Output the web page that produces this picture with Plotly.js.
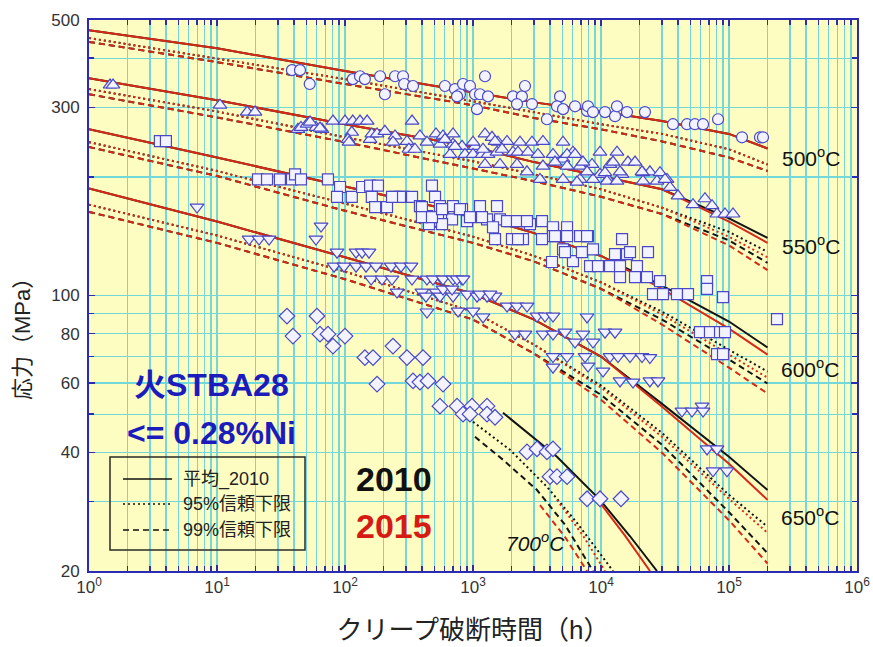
<!DOCTYPE html>
<html><head><meta charset="utf-8">
<script src="https://cdn.plot.ly/plotly-3.0.1.min.js"></script>
<style>html,body{margin:0;padding:0;background:#fff}#chart{width:873px;height:647px}</style>
</head><body><div id="chart"></div>
<script>
// ---- curve data (time h, stress MPa) ----
const tCurve = [1,10,100,1000,3000,10000,30000,100000,200000];

const s500Mean2010 = [471,424,371,328,309,293,277,257,236];
const s500Mean2015 = [471,424,371,328,309,293,277,257,236];
const s500P95_2010 = [450,400,354,311,292,272,257,235,215];
const s500P95_2015 = [450,400,354,311,292,272,257,235,215];
const s500P99_2010 = [440,391,344,304,282,264,246,224,207];
const s500P99_2015 = [440,391,344,304,282,264,246,224,207];

const s550Mean2010 = [356,313,272,238,218,201,186,157,140];
const s550Mean2015 = [356,313,272,238,218,201,186,154,136];
const s550P95_2010 = [334,293,252,219,203,186,167,145,129];
const s550P95_2015 = [334,293,252,219,203,186,167,141,125];
const s550P99_2010 = [324,283,245,210,195,178,161,138,121];
const s550P99_2015 = [324,283,245,210,195,178,161,134,116];

const s600Mean2010 = [264,224,189,160,144,126,106,85.9,73.8];
const s600Mean2015 = [264,224,189,160,144,126,104,82.4,70.8];
const s600P95_2010 = [245,207,171,141,126,108,91.0,72.9,64.1];
const s600P95_2015 = [245,207,171,141,126,108,89.5,70.8,61.9];
const s600P99_2010 = [238,201,164,136,122,104,86.9,68.8,59.8];
const s600P99_2015 = [238,201,164,136,122,104,84.4,65.6,56.4];

const s650Mean2010 = [187,154,125,101,86.9,70.0,53.1,39.0,32.1];
const s650Mean2015 = [187,154,125,101,86.9,70.0,52.2,37.4,30.3];
const s650P95_2010 = [170,142,115,91.0,75.0,59.1,44.8,31.2,25.9];
const s650P95_2015 = [170,142,115,91.0,75.0,58.4,43.8,30.5,25.0];
const s650P99_2010 = [163,136,110,86.9,71.2,56.0,41.8,28.2,22.2];
const s650P99_2015 = [163,136,110,86.9,71.2,54.4,39.9,26.9,20.9];

const t700Mean2010 = [1715,4530,9820,16860,27380];
const s700Mean2010 = [50.4,39.0,30.3,24.5,20];
const t700Mean2015 = [9820,15400,24150];
const s700Mean2015 = [29.8,24.6,20];
const t700P95_2010 = [1000,1945,3785,6494,12410];
const s700P95_2010 = [47.8,40.6,32.7,26.5,20];
const t700P99_2010 = [1036,1715,3162,5234,8660];
const s700P99_2010 = [43.8,38.3,32.1,26.2,20];
const t700P95_2015 = [4530,7230,10740];
const s700P95_2015 = [30.3,24.6,20];
const t700P99_2015 = [3337,5234,7780];
const s700P99_2015 = [29.4,24.4,20];

// ---- test data [time h, stress MPa] ----
const pts500 = [[38.5,373],[44.5,373],[53,344],[115,354],[131,360],[143,354],[188,360],[205,324],[246,360],[284,360],[290,344],[340,340],[604,340],[723,334],[791,324],[836,344],[947,340],[1037,324],[1134,324],[1241,360],[1075,297],[1310,320],[750,320],[2053,320],[2410,320],[2548,340],[2205,306],[2890,306],[3780,280],[4784,320],[4530,302],[5050,297],[6270,302],[7780,294],[7910,302],[8660,292],[10750,292],[12870,285],[13330,302],[15960,292],[22050,292],[36500,272],[46950,272],[54200,272],[62700,272],[82100,280],[126400,252],[174600,252],[184300,252]];

const pts550 = [[1.46,342],[1.54,342],[10.55,304],[17.2,292],[19.8,292],[42.9,264],[45.3,267],[50.5,272],[59.3,267],[66.1,264],[53.3,275.5],[63.8,266],[80.6,277],[100,277],[115,277],[131,277],[149,277],[113,259.5],[105.5,249],[107.5,245],[157,249],[162,257],[178,257],[205,261],[246,254],[237,245],[334,277],[305,246],[316,235],[385,254],[352,235],[437,245],[514,257],[583,254],[698,257],[552,242],[698,242],[661,228],[821,239],[866,228],[1037,239],[1241,257],[1408,252],[1000,228],[1176,228],[1310,228],[1567,245],[1844,246],[1540,231],[2053,231],[2329,245],[2246,231],[2890,245],[3520,246],[2688,231],[3217,228],[4217,228],[1241,215],[1625,215],[2205,215],[2640,206],[3520,213],[5050,245],[6040,231],[5050,222],[6860,213],[8510,215],[9820,231],[9820,203],[11760,215],[13330,231],[3336,197],[5050,197],[6860,197],[8660,197],[11340,197],[604,249],[723,239],[1000,245],[1486,246],[1197,235],[1685,235],[5430,228],[6270,228],[4372,218],[5430,213],[7230,218],[7780,206],[10750,205],[12410,218],[14600,203],[16250,218],[18440,218],[21280,205],[24100,206],[28900,205],[32800,197],[34580,188],[39940,179],[52300,170],[64900,176],[73700,169],[6490,194],[11140,195],[13330,195],[21280,195],[27370,195],[14080,206],[20900,206],[31620,197],[80600,161],[93000,161],[107500,161]];

const pts600 = [[3.58,246.5],[3.99,246.5],[20.9,197],[24.6,197],[31.0,197],[38.5,197],[40.7,203],[45.3,197],[73.6,197],[91.4,188.5],[86.6,178],[113,178],[136,188.5],[157,190],[181,190],[162,178],[172,167.6],[213,167.6],[246,178],[284,178],[334,178],[385,168.6],[478,190],[505,178],[437,159],[552,168.6],[583,159],[698,168.6],[686,156],[821,165.6],[898,154.4],[1134,168.6],[1287,156],[1540,168.6],[1625,156],[1945,154.4],[2329,154.4],[2787,151.7],[3460,154.4],[4217,147.4],[5430,149],[6860,141.5],[7910,141.5],[269,178],[399,167.6],[533,158],[791,165.6],[947,158],[1176,158],[1433,149],[1844,154.4],[2205,154.4],[2640,154.4],[4217,149],[2016,139],[2457,139],[4217,141.5],[5050,131],[4140,121.6],[6040,122.3],[1486,139],[2246,139],[3460,139],[4372,141.5],[5430,141.5],[7780,141.5],[14600,139],[7100,128.8],[8660,131],[12870,127.4],[15960,127.4],[23290,128.8],[8210,118.7],[9470,118.7],[11760,118.7],[14080,118.7],[19100,118.7],[14080,111.3],[18440,111.3],[22870,111.3],[28900,108.8],[25480,100.8],[30500,100.8],[39220,100.8],[47840,100.8],[67350,108.8],[67350,104],[89800,99.0],[59300,80.7],[71000,80.7],[85100,80.7],[93000,80.7],[80600,71.0],[89800,71.0],[237100,87.1],[5230,128.8],[16850,128.8],[573,151.7],[453,151.7],[399,158],[478,158],[573,165.6],[233,178]];

const pts650 = [[6.98,167.6],[17.8,139],[21.3,139],[25.5,139],[59.3,139],[65.0,150],[86.6,128.8],[122,128.8],[136,128.8],[154,128.8],[82.1,118.7],[98.2,118.7],[122,118.7],[146,118.7],[174.6,118.7],[229,118.7],[274,118.7],[328,118.7],[160,110.1],[194.5,110.1],[233,110.1],[334,110.1],[255,102],[399,102],[514,102],[573,110.1],[429,99.6],[437,110.1],[487,110.1],[583,110.1],[698,110.1],[821,110.1],[552,99.6],[698,99.6],[898,100.8],[1075,99.6],[1287,99.6],[1486,99.6],[583,103.8],[686,103.8],[437,90.8],[764,91.3],[1000,91.3],[1197,88.2],[1844,94],[2205,94],[2640,94],[2128,79.8],[2548,79.8],[3162,88.7],[3650,88.7],[4217,88.7],[3520,79.8],[4217,79.8],[5230,80.7],[7780,88.2],[6270,76.2],[7230,79.8],[8660,76.2],[10750,80.7],[12870,80.7],[4217,70],[5430,70],[7500,70],[4217,65.8],[7910,66.2],[10370,64.3],[11760,70],[13580,70],[16850,70],[20900,70],[24100,69.6],[14080,60.7],[17780,60.3],[24100,60.7],[27870,60.7],[42900,50.9],[51400,50.9],[61540,52.4],[62700,50.9],[67350,40.8],[80600,40.8],[75000,35.9],[96400,35.9],[750,110.1],[836,110.1],[1134,100.8],[1358,100.8]];

const pts700 = [[35.2,88.7],[60.4,88.7],[39.2,78.9],[63.8,79.8],[73.6,79.8],[80.6,74.4],[100,78.9],[237,74.4],[143,69.6],[165.5,69.6],[305,69.6],[407,69.6],[178,59.6],[340,60.7],[385,60.3],[445,60.7],[583,59.6],[552,52.4],[750,52.4],[836,50],[982,52.4],[1287,52.4],[1287,50],[1486,49.1],[947,50],[2640,40.1],[3162,40.8],[3785,40.1],[4217,40.8],[3994,34.7],[4530,34.7],[5430,34.7],[7780,30.5],[9820,30.5],[14330,30.5]];

// ---- axis ticks ----
const xTickVals = [1,10,100,1000,10000,100000,1000000];
const xTickText = ['10<sup>0</sup>','10<sup>1</sup>','10<sup>2</sup>','10<sup>3</sup>','10<sup>4</sup>','10<sup>5</sup>','10<sup>6</sup>'];
const xMinorVals = [];
for (let k = 0; k <= 5; k++) for (let m = 2; m <= 9; m++) xMinorVals.push(m * Math.pow(10, k));
const yTickVals = [20,40,60,80,100,300,500];
const yTickText = ['20','40','60','80','100','300','500'];
const yMinorVals = [30,50,70,90,200,400];

const BLACK = '#141414', RED = '#d42a17', BLUE = '#2a2ab4', GRID = '#74d8da';
const DOT = '2px,3px', DASH = '6px,4px';

function curve(t, s, color, dash) {
  return {x: t, y: s, type: 'scatter', mode: 'lines', hoverinfo: 'skip',
          line: {color: color, width: 2, dash: dash}};
}
function pts(arr, symbol, size) {
  return {x: arr.map(p => p[0]), y: arr.map(p => p[1]), type: 'scatter', mode: 'markers', hoverinfo: 'skip',
          marker: {symbol: symbol, size: size, color: '#f3f3ff', line: {color: '#4848c8', width: 1.2}}};
}

const traces = [
  // 2010 (black)
  curve(tCurve, s500Mean2010, BLACK, 'solid'), curve(tCurve, s500P95_2010, BLACK, DOT), curve(tCurve, s500P99_2010, BLACK, DASH),
  curve(tCurve, s550Mean2010, BLACK, 'solid'), curve(tCurve, s550P95_2010, BLACK, DOT), curve(tCurve, s550P99_2010, BLACK, DASH),
  curve(tCurve, s600Mean2010, BLACK, 'solid'), curve(tCurve, s600P95_2010, BLACK, DOT), curve(tCurve, s600P99_2010, BLACK, DASH),
  curve(tCurve, s650Mean2010, BLACK, 'solid'), curve(tCurve, s650P95_2010, BLACK, DOT), curve(tCurve, s650P99_2010, BLACK, DASH),
  curve(t700Mean2010, s700Mean2010, BLACK, 'solid'), curve(t700P95_2010, s700P95_2010, BLACK, DOT), curve(t700P99_2010, s700P99_2010, BLACK, DASH),
  // 2015 (red)
  curve(tCurve, s500Mean2015, RED, 'solid'), curve(tCurve, s500P95_2015, RED, DOT), curve(tCurve, s500P99_2015, RED, DASH),
  curve(tCurve, s550Mean2015, RED, 'solid'), curve(tCurve, s550P95_2015, RED, DOT), curve(tCurve, s550P99_2015, RED, DASH),
  curve(tCurve, s600Mean2015, RED, 'solid'), curve(tCurve, s600P95_2015, RED, DOT), curve(tCurve, s600P99_2015, RED, DASH),
  curve(tCurve, s650Mean2015, RED, 'solid'), curve(tCurve, s650P95_2015, RED, DOT), curve(tCurve, s650P99_2015, RED, DASH),
  curve(t700Mean2015, s700Mean2015, RED, 'solid'), curve(t700P95_2015, s700P95_2015, RED, DOT), curve(t700P99_2015, s700P99_2015, RED, DASH),
  // data
  pts(pts500, 'circle', 11), pts(pts550, 'triangle-up', 12), pts(pts600, 'square', 11),
  pts(pts650, 'triangle-down', 12), pts(pts700, 'diamond', 12)
];

const FONT = 'Liberation Sans, Arial, Noto Sans CJK JP, sans-serif';
const W = 768, H = 551, L = 89, B = 571;
const px = v => (v - L) / W, py = v => (B - v) / H;

function ann(text, x, y, size, color, extra) {
  return Object.assign({text: text, x: x, y: y, xref: 'paper', yref: 'paper', showarrow: false,
    xanchor: 'center', yanchor: 'middle', font: {family: FONT, size: size, color: color}}, extra || {});
}

const annotations = [
  ann('500<sup>o</sup>C', px(811), py(157), 21, '#111'),
  ann('550<sup>o</sup>C', px(811), py(245), 21, '#111'),
  ann('600<sup>o</sup>C', px(810), py(368), 21, '#111'),
  ann('650<sup>o</sup>C', px(810), py(516), 21, '#111'),
  ann('<i>700<sup>o</sup>C</i>', px(535), py(542), 21, '#111'),
  ann('<b>火STBA28</b>', px(211), py(385), 32, '#1c1cbc'),
  ann('<b>&lt;= 0.28%Ni</b>', px(211), py(433), 32, '#1c1cbc'),
  ann('<b>2010</b>', px(394), py(479), 34, '#111'),
  ann('<b>2015</b>', px(394), py(526), 34, '#d61a14'),
  ann('平均_2010', px(181), py(479), 18, '#222', {xanchor: 'left'}),
  ann('95%信頼下限', px(181), py(504), 18, '#222', {xanchor: 'left'}),
  ann('99%信頼下限', px(181), py(530), 18, '#222', {xanchor: 'left'}),
  ann('応力（MPa）', px(22), py(334), 22, '#222', {textangle: -90})
];

const shapes = [
  {type: 'rect', xref: 'paper', yref: 'paper', x0: px(110), x1: px(305), y0: py(550), y1: py(457), line: {color: '#2a2a2a', width: 1.5}},
  {type: 'line', xref: 'paper', yref: 'paper', x0: px(123), x1: px(172), y0: py(479), y1: py(479), line: {color: '#111', width: 1.5}},
  {type: 'line', xref: 'paper', yref: 'paper', x0: px(123), x1: px(172), y0: py(504), y1: py(504), line: {color: '#111', width: 1.5, dash: DOT}},
  {type: 'line', xref: 'paper', yref: 'paper', x0: px(123), x1: px(172), y0: py(530), y1: py(530), line: {color: '#111', width: 1.5, dash: DASH}}
];

function axis(extra, minorVals) {
  return Object.assign({
    type: 'log', ticks: 'inside', ticklen: 6, tickwidth: 1.5, tickcolor: BLUE,
    showline: true, linecolor: BLUE, linewidth: 2, mirror: 'ticks',
    showgrid: true, gridcolor: GRID, gridwidth: 1.3, zeroline: false,
    tickfont: {family: FONT, size: 17, color: '#333'},
    tickmode: 'array',
    minor: {tickmode: 'array', tickvals: minorVals, ticks: 'inside', ticklen: 5, tickwidth: 1.5, tickcolor: BLUE,
            showgrid: true, gridcolor: GRID, gridwidth: 1.3}
  }, extra);
}

const layout = {
  width: 873, height: 647,
  margin: {l: 89, r: 16, t: 20, b: 76},
  paper_bgcolor: '#ffffff', plot_bgcolor: '#fdfdc2',
  font: {family: FONT, color: '#222'},
  showlegend: false,
  xaxis: axis({range: [0, 6], tickvals: xTickVals, ticktext: xTickText,
    title: {text: 'クリープ破断時間（h）', font: {family: FONT, size: 26, color: '#222'}, standoff: 24}}, xMinorVals),
  yaxis: axis({range: [Math.log10(20), Math.log10(500)], tickvals: yTickVals, ticktext: yTickText, ticklabelstandoff: 4}, yMinorVals),
  annotations: annotations,
  shapes: shapes
};

Plotly.newPlot('chart', traces, layout, {staticPlot: true, displayModeBar: false});
</script>
</body></html>
